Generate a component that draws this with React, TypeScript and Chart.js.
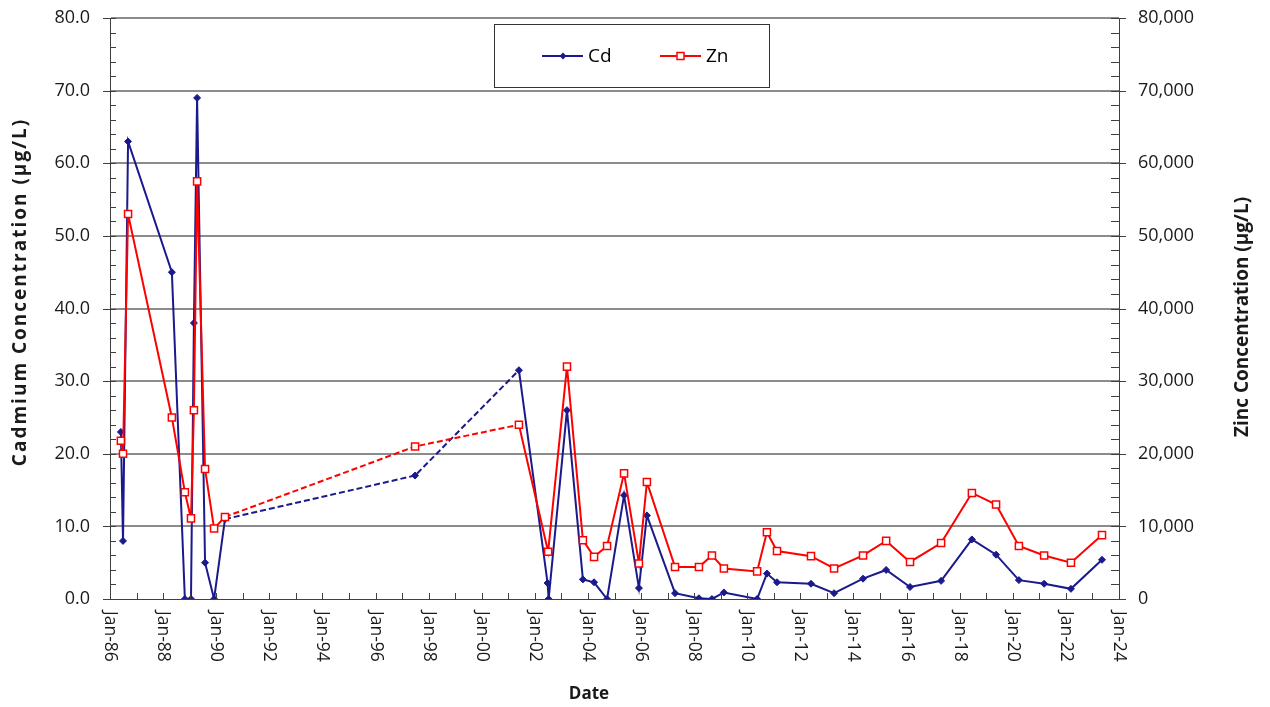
import React, { useEffect, useRef } from 'react';
import { Chart, registerables } from 'chart.js';

Chart.register(...registerables);

// Sample dates as decimal years
const cdDates = [
  1986.41, 1986.49, 1986.68, 1988.33, 1988.82, 1989.05, 1989.16, 1989.28, 1989.58, 1989.92,
  1990.33, 1997.49, 2001.4, 2002.48, 2002.52, 2003.21, 2003.81, 2004.23, 2004.72, 2005.36,
  2005.92, 2006.22, 2007.28, 2008.18, 2008.67, 2009.12, 2010.37, 2010.74, 2011.12, 2012.4,
  2013.27, 2014.36, 2015.23, 2016.13, 2017.3, 2018.46, 2019.37, 2020.23, 2021.18, 2022.19,
  2023.36,
];
const cdValues = [
  23, 8, 63, 45, 0, 0, 38, 69, 5, 0,
  11, 17, 31.5, 2.2, 0, 26, 2.7, 2.3, 0, 14.3,
  1.5, 11.5, 0.8, 0.1, 0, 0.9, 0, 3.5, 2.3, 2.1,
  0.8, 2.8, 4.0, 1.65, 2.5, 8.2, 6.1, 2.6, 2.1, 1.4,
  5.4,
];

const znDates = [
  1986.41, 1986.49, 1986.68, 1988.33, 1988.82, 1989.05, 1989.16, 1989.28, 1989.58, 1989.92,
  1990.33, 1997.49, 2001.4, 2002.5, 2003.21, 2003.81, 2004.23, 2004.72, 2005.36, 2005.92,
  2006.22, 2007.28, 2008.18, 2008.67, 2009.12, 2010.37, 2010.74, 2011.12, 2012.4, 2013.27,
  2014.36, 2015.23, 2016.13, 2017.3, 2018.46, 2019.37, 2020.23, 2021.18, 2022.19, 2023.36,
];
const znValues = [
  21800, 20000, 53000, 25000, 14700, 11100, 26000, 57500, 17900, 9700,
  11300, 21000, 24000, 6500, 32000, 8100, 5800, 7300, 17300, 4900,
  16100, 4400, 4400, 6000, 4200, 3800, 9200, 6600, 5900, 4200,
  6000, 8000, 5100, 7700, 14600, 13000, 7300, 6000, 5000, 8800,
];

const xTickYears = [1986, 1988, 1990, 1992, 1994, 1996, 1998, 2000, 2002, 2004, 2006, 2008, 2010, 2012, 2014, 2016, 2018, 2020, 2022, 2024];
const xTickLabels = ['Jan-86', 'Jan-88', 'Jan-90', 'Jan-92', 'Jan-94', 'Jan-96', 'Jan-98', 'Jan-00', 'Jan-02', 'Jan-04', 'Jan-06', 'Jan-08', 'Jan-10', 'Jan-12', 'Jan-14', 'Jan-16', 'Jan-18', 'Jan-20', 'Jan-22', 'Jan-24'];

const CD_COLOR = '#1a1a8c';
const ZN_COLOR = '#ff0000';
const FONT = "'Open Sans', 'DejaVu Sans', sans-serif";

const gapDash = (ctx: any) => (ctx.p1.parsed.x - ctx.p0.parsed.x > 3 ? [6, 3] : undefined);

const decorPlugin = {
  id: 'decor',
  afterDraw(chart: any) {
    const ctx = chart.ctx as CanvasRenderingContext2D;
    const xs = chart.scales.x;
    const yl = chart.scales.y;
    const yr = chart.scales.y2;
    const { left, right, bottom } = chart.chartArea;
    ctx.save();
    ctx.strokeStyle = '#404040';
    ctx.lineWidth = 1;
    const line = (x1: number, y1: number, x2: number, y2: number) => {
      ctx.beginPath();
      ctx.moveTo(x1, y1);
      ctx.lineTo(x2, y2);
      ctx.stroke();
    };
    for (let y = 1986; y <= 2024; y++) {
      const px = Math.round(xs.getPixelForValue(y)) + 0.5;
      line(px, bottom, px, bottom - 6);
    }
    for (let v = 0; v <= 80; v += 2) {
      const py = Math.round(yl.getPixelForValue(v)) + 0.5;
      if (v % 10 === 0) line(left - 7, py, left + 6, py);
      else line(left, py, left + 6, py);
    }
    for (let v = 0; v <= 80000; v += 2000) {
      const py = Math.round(yr.getPixelForValue(v)) + 0.5;
      if (v % 10000 === 0) line(right - 8, py, right + 7, py);
      else line(right - 8, py, right, py);
    }

    // x tick labels, reading top to bottom
    ctx.fillStyle = '#1a1a1a';
    ctx.font = `17.5px ${FONT}`;
    ctx.textAlign = 'left';
    ctx.textBaseline = 'middle';
    xTickYears.forEach((yv, i) => {
      const px = xs.getPixelForValue(yv);
      ctx.save();
      ctx.translate(px, bottom + 12);
      ctx.rotate(Math.PI / 2);
      ctx.fillText(xTickLabels[i], 0, 0);
      ctx.restore();
    });

    // axis titles
    ctx.font = `bold 19px ${FONT}`;
    ctx.textAlign = 'center';
    ctx.textBaseline = 'middle';
    ctx.save();
    ctx.translate(21, 292);
    ctx.rotate(-Math.PI / 2);
    (ctx as any).letterSpacing = '2px';
    ctx.fillText('Cadmium Concentration (µg/L)', 0, 0);
    (ctx as any).letterSpacing = '0px';
    ctx.restore();
    ctx.save();
    ctx.translate(1243, 317);
    ctx.rotate(-Math.PI / 2);
    ctx.fillText('Zinc Concentration (µg/L)', 0, 0);
    ctx.restore();
    ctx.font = `bold 17px ${FONT}`;
    ctx.fillText('Date', 589, 694);

    // legend box
    ctx.fillStyle = '#ffffff';
    ctx.fillRect(494.5, 24.5, 275, 63);
    ctx.strokeStyle = '#333333';
    ctx.lineWidth = 1;
    ctx.strokeRect(494.5, 24.5, 275, 63);
    const ly = 56;
    ctx.lineWidth = 2;
    ctx.strokeStyle = CD_COLOR;
    line(542, ly, 583, ly);
    ctx.fillStyle = CD_COLOR;
    ctx.beginPath();
    ctx.moveTo(563, ly - 3.5);
    ctx.lineTo(566.5, ly);
    ctx.lineTo(563, ly + 3.5);
    ctx.lineTo(559.5, ly);
    ctx.closePath();
    ctx.fill();
    ctx.strokeStyle = ZN_COLOR;
    line(660, ly, 701, ly);
    ctx.fillStyle = '#ffffff';
    ctx.fillRect(677, ly - 3.5, 7, 7);
    ctx.lineWidth = 1.5;
    ctx.strokeRect(677, ly - 3.5, 7, 7);
    ctx.fillStyle = '#000000';
    ctx.font = `19px ${FONT}`;
    ctx.textAlign = 'left';
    ctx.fillText('Cd', 588, ly + 1);
    ctx.fillText('Zn', 706, ly + 1);
    ctx.restore();
  },
};

export default function App() {
  const ref = useRef<HTMLCanvasElement>(null);
  useEffect(() => {
    document.body.style.margin = '0';
    const canvas = ref.current;
    if (!canvas) return;
    const chart = new Chart(canvas, {
      type: 'line',
      data: {
        datasets: [
          {
            label: 'Cd',
            data: cdDates.map((d, i) => ({ x: d, y: cdValues[i] })),
            yAxisID: 'y',
            borderColor: CD_COLOR,
            backgroundColor: CD_COLOR,
            borderWidth: 2,
            pointStyle: 'rectRot',
            pointRadius: 3.5,
            pointBorderWidth: 1,
            pointBackgroundColor: CD_COLOR,
            pointBorderColor: CD_COLOR,
            tension: 0,
            order: 1,
            segment: { borderDash: gapDash },
          },
          {
            label: 'Zn',
            data: znDates.map((d, i) => ({ x: d, y: znValues[i] })),
            yAxisID: 'y2',
            borderColor: ZN_COLOR,
            backgroundColor: '#ffffff',
            borderWidth: 2,
            pointStyle: 'rect',
            pointRadius: 5,
            pointBorderWidth: 1.5,
            pointBackgroundColor: '#ffffff',
            pointBorderColor: ZN_COLOR,
            tension: 0,
            order: 0,
            segment: { borderDash: gapDash },
          },
        ],
      },
      options: {
        responsive: false,
        animation: false,
        devicePixelRatio: 1,
        font: { family: FONT },
        layout: { padding: { top: 18, left: 0, right: 0, bottom: 0 } },
        plugins: {
          legend: { display: false },
          tooltip: { enabled: false },
        },
        scales: {
          x: {
            type: 'linear',
            min: 1986,
            max: 2024,
            ticks: { display: false },
            grid: { display: false },
            border: { display: true, color: '#404040', width: 1 },
            afterFit: (s: any) => {
              s.height = 108;
              s.paddingLeft = 0;
              s.paddingRight = 0;
            },
          },
          y: {
            type: 'linear',
            position: 'left',
            min: 0,
            max: 80,
            ticks: {
              stepSize: 10,
              padding: 20,
              color: '#1a1a1a',
              font: { family: FONT, size: 18 },
              callback: (v: any) => Number(v).toFixed(1),
            },
            grid: {
              drawTicks: false,
              tickLength: 0,
              lineWidth: 2,
              color: (c: any) => (c.tick && c.tick.value === 0 ? 'rgba(0,0,0,0)' : '#8c8c8c'),
            },
            border: { display: true, color: '#404040', width: 1 },
            afterFit: (s: any) => {
              s.width = 110;
              s.paddingTop = 0;
              s.paddingBottom = 0;
            },
          },
          y2: {
            type: 'linear',
            position: 'right',
            min: 0,
            max: 80000,
            ticks: {
              stepSize: 10000,
              padding: 19,
              color: '#1a1a1a',
              font: { family: FONT, size: 18 },
              callback: (v: any) => Number(v).toLocaleString('en-US'),
            },
            grid: { display: false, drawOnChartArea: false, drawTicks: false, tickLength: 0 },
            border: { display: true, color: '#404040', width: 1 },
            afterFit: (s: any) => {
              s.width = 151;
              s.paddingTop = 0;
              s.paddingBottom = 0;
            },
          },
        },
      },
      plugins: [decorPlugin],
    } as any);
    return () => chart.destroy();
  }, []);
  return (
    <div style={{ width: 1270, height: 707 }}>
      <canvas ref={ref} width={1270} height={707} style={{ display: 'block' }} />
    </div>
  );
}
